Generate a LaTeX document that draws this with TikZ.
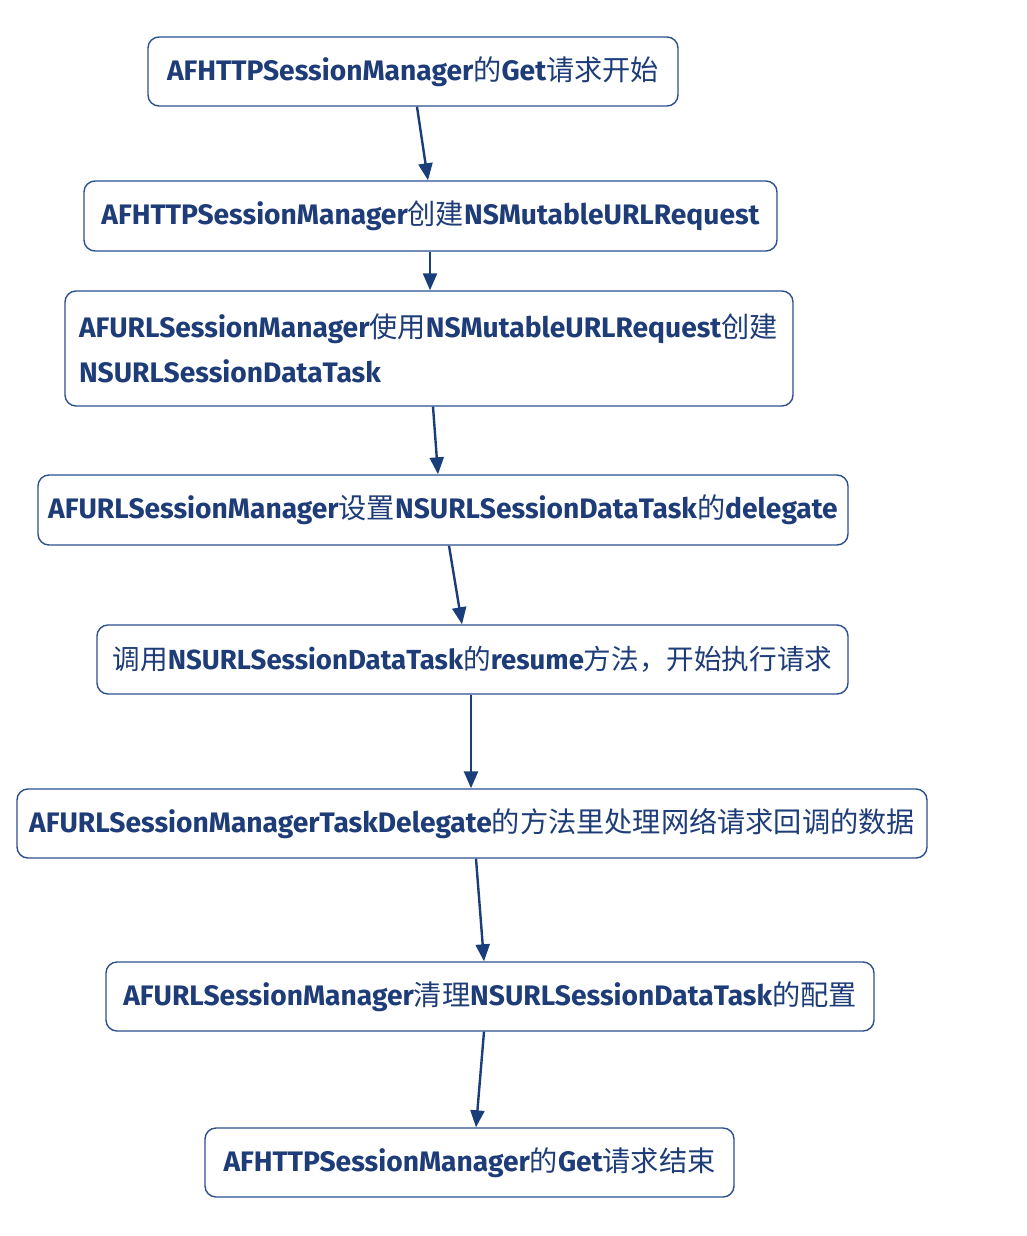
\documentclass[tikz,border=0pt]{standalone}
\usepackage{fontspec}
\setmainfont{Fira Sans}
\newfontfamily\cjk{Noto Sans CJK SC}
\newcommand\zh[1]{{\cjk\mdseries #1}}
\usetikzlibrary{arrows.meta}
\definecolor{boxblue}{HTML}{2C4F8E}
\definecolor{txtblue}{HTML}{1D3C78}
\definecolor{arrblue}{HTML}{1A3E7A}
\tikzset{
  flowbox/.style={draw=boxblue, line width=1.4pt, rounded corners=11pt, fill=white,
    inner sep=0pt, minimum height=69pt, text=txtblue,
    font=\fontsize{28.2}{32}\selectfont\bfseries},
  flowarrow/.style={draw=arrblue, line width=2.4pt, -{Triangle[length=17pt,width=14pt]}}
}
\begin{document}
\begin{tikzpicture}[x=1pt,y=-1pt]
\useasboundingbox[fill=white] (0,0) rectangle (1026,1236);
\node[flowbox, minimum width=530pt] (n1) at (413,71.5) {AFHTTPSessionManager\zh{的}Get\zh{请求开始}};
\node[flowbox, minimum width=693pt, minimum height=70pt] (n2) at (430.5,216) {AFHTTPSessionManager\zh{创建}NSMutableURLRequest};
\node[flowbox, minimum width=728pt, minimum height=115pt, text width=700pt, align=left,
  font=\fontsize{28.2}{45}\selectfont\bfseries] (n3) at (429,348.5) {AFURLSessionManager\zh{使用}NSMutableURLRequest\zh{创建}\\NSURLSessionDataTask};
\node[flowbox, minimum width=810pt, minimum height=70pt] (n4) at (443,510) {AFURLSessionManager\zh{设置}NSURLSessionDataTask\zh{的}delegate};
\node[flowbox, minimum width=751pt, font=\fontsize{27.6}{32}\selectfont\bfseries] (n5) at (472.5,659.5) {\zh{调用}NSURLSessionDataTask\zh{的}resume\zh{方法，开始执行请求}};
\node[flowbox, minimum width=910pt] (n6) at (472,823.5) {AFURLSessionManagerTaskDelegate\zh{的方法里处理网络请求回调的数据}};
\node[flowbox, minimum width=768pt] (n7) at (490,996.5) {AFURLSessionManager\zh{清理}NSURLSessionDataTask\zh{的配置}};
\node[flowbox, minimum width=529pt] (n8) at (469.5,1162.5) {AFHTTPSessionManager\zh{的}Get\zh{请求结束}};
\draw[flowarrow] ([xshift=4pt]n1.south) -- ([xshift=-2.5pt]n2.north);
\draw[flowarrow] ([xshift=-0.5pt]n2.south) -- ([xshift=1pt]n3.north);
\draw[flowarrow] ([xshift=4pt]n3.south) -- ([xshift=-5pt]n4.north);
\draw[flowarrow] ([xshift=6pt]n4.south) -- ([xshift=-10.5pt]n5.north);
\draw[flowarrow] ([xshift=-1.5pt]n5.south) -- ([xshift=-1pt]n6.north);
\draw[flowarrow] ([xshift=4pt]n6.south) -- ([xshift=-6pt]n7.north);
\draw[flowarrow] ([xshift=-6pt]n7.south) -- ([xshift=6.5pt]n8.north);
\end{tikzpicture}
\end{document}
